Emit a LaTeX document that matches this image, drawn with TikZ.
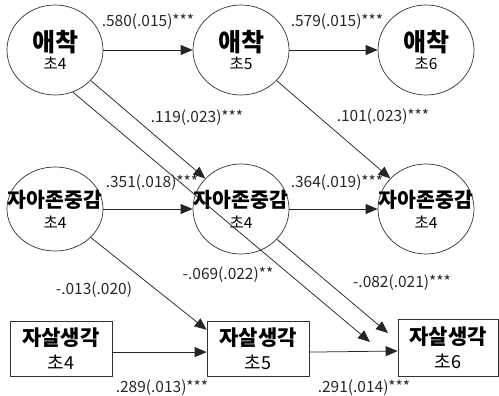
\documentclass[tikz,border=0pt]{standalone}
\usepackage{fontspec}
\setmainfont{Noto Sans CJK KR}
\usetikzlibrary{arrows.meta,shapes.geometric}

\begin{document}
\begin{tikzpicture}[x=1pt,y=-1pt,
  lat/.style={ellipse, draw=black!80, line width=0.7pt, minimum width=96pt, minimum height=90pt, inner sep=0pt, align=center, font=\fontsize{15.5}{21}\selectfont},
  obs/.style={rectangle, draw=black!80, line width=0.7pt, minimum width=102pt, minimum height=55pt, inner sep=0pt, align=center, font=\fontsize{18}{24}\selectfont},
  path/.style={draw=black!85, line width=0.75pt, -{Triangle[length=12pt,width=10pt]}},
  coef/.style={font=\fontsize{15.5}{15.5}\selectfont, text=black!85, inner sep=0pt}]
\useasboundingbox (0,0) rectangle (499,396);

\node[lat, anchor=center] (a4) at (55,50) {{\fontsize{25}{20}\selectfont\bfseries 애착}\\[-3pt]초4};
\node[lat, anchor=center] (a5) at (241,50) {{\fontsize{25}{20}\selectfont\bfseries 애착}\\[-3pt]초5};
\node[lat, anchor=center] (a6) at (426,50) {{\fontsize{25}{20}\selectfont\bfseries 애착}\\[-3pt]초6};
\node[lat, anchor=center, minimum height=84pt] (s4) at (55,209) {\makebox[0pt]{\fontsize{20.5}{20}\selectfont\bfseries 자아존중감}\\초4};
\node[lat, anchor=center] (s5) at (241,209) {\makebox[0pt]{\fontsize{20.5}{20}\selectfont\bfseries 자아존중감}\\초4};
\node[lat, anchor=center] (s6) at (426,209) {\makebox[0pt]{\fontsize{20.5}{20}\selectfont\bfseries 자아존중감}\\초4};
\node[obs, anchor=center] (b4) at (61,348.5) {{\fontsize{21}{22}\selectfont\bfseries 자살생각}\\초4};
\node[obs, anchor=center] (b5) at (258,348.5) {{\fontsize{21}{22}\selectfont\bfseries 자살생각}\\초5};
\node[obs, anchor=center, minimum width=100pt, minimum height=57pt] (b6) at (448,347.5) {{\fontsize{21}{22}\selectfont\bfseries 자살생각}\\초6};

\coordinate (t1) at (370,342);
\coordinate (t2) at (388,333);

\draw[path] (a4) -- (a5);
\draw[path] (a5) -- (a6);
\draw[path] (a4) -- (s5);
\draw[path] (a5) -- (s6);
\draw[path] (a4.-67) -- (t1);
\draw[path] (s4) -- (s5);
\draw[path] (s5) -- (s6);
\draw[path] (s4) -- (b5.160);
\draw[path] (s5) -- (t2);
\draw[path] (b4.-4) -- (b5.184);
\draw[path] (b5.-4) -- (b6.184);

\node[coef, anchor=center] (l580) at (148,22) {.580(.015)***};
\node[coef, anchor=center] (l579) at (337,22) {.579(.015)***};
\node[coef, anchor=center] (l119) at (197,118) {.119(.023)***};
\node[coef, anchor=center] (l101) at (383,117) {.101(.023)***};
\node[coef, anchor=center] (l351) at (152,183) {.351(.018)***};
\node[coef, anchor=center] (l364) at (337,183) {.364(.019)***};
\node[coef, anchor=center] (l013) at (94,290) {-.013(.020)};
\node[coef, anchor=center] (l069) at (228,275) {-.069(.022)**};
\node[coef, anchor=center] (l082) at (402,283) {-.082(.021)***};
\node[coef, anchor=center] (l289) at (162,388) {.289(.013)***};
\node[coef, anchor=center] (l291) at (364,388) {.291(.014)***};
\end{tikzpicture}
\end{document}
